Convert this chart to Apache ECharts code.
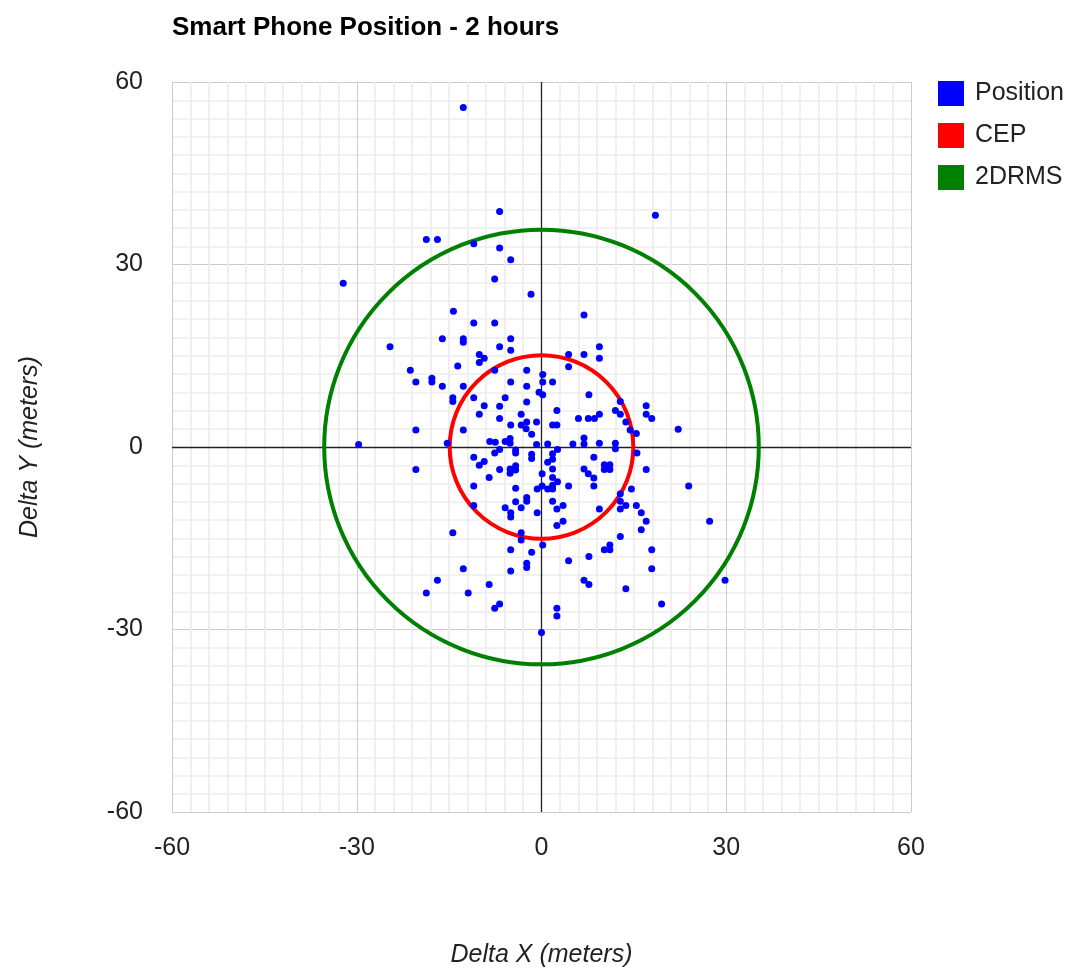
<!DOCTYPE html>
<html>
<head>
<meta charset="utf-8">
<script src="https://cdn.jsdelivr.net/npm/echarts@6/dist/echarts.min.js"></script>
<style>
html,body{margin:0;padding:0;background:#fff;overflow:hidden;}
#chart{width:1072px;height:973px;}
</style>
</head>
<body>
<div id="chart"></div>
<script>
var titleText = 'Smart Phone Position - 2 hours';
var xAxisName = 'Delta X (meters)';
var yAxisName = 'Delta Y (meters)';
var axisMin = -60, axisMax = 60, axisInterval = 30;

// Position fixes [deltaX, deltaY] in meters
var positionPoints = [
  [-12.7,55.8],[18.5,38.1],[-6.8,38.7],[-18.7,34.1],[-16.9,34.1],[-11.0,33.4],[-6.8,32.7],[-5.0,30.8],
  [-7.6,27.6],[-32.2,26.9],[-1.7,25.1],[-14.3,22.3],[6.9,21.7],[-11.0,20.4],[-7.6,20.4],[-16.1,17.8],
  [-12.7,17.8],[-12.7,17.2],[-5.0,17.8],[-24.6,16.5],[-6.8,16.5],[9.4,16.5],[-5.0,15.9],[-10.1,15.2],
  [4.4,15.2],[6.9,15.2],[-9.3,14.6],[9.4,14.6],[-10.1,13.9],[-13.6,13.3],[4.4,13.2],[-21.3,12.6],
  [-7.6,12.6],[-2.4,12.6],[0.2,11.9],[-17.8,11.3],[-20.4,10.7],[-17.8,10.7],[-5.0,10.7],[0.2,10.7],
  [1.8,10.7],[-16.1,10.0],[-12.7,10.0],[-2.4,10.0],
  [-0.4,9.0],[0.2,8.6],[7.7,8.6],[-14.4,8.1],[-11.0,8.1],[-5.9,8.1],[-14.4,7.5],[-2.4,7.4],
  [12.8,7.5],[-9.3,6.8],[-6.8,6.7],[17.0,6.8],[2.5,6.0],[12.0,6.0],[-10.1,5.4],[-3.3,5.4],
  [9.4,5.4],[12.8,5.4],[17.0,5.4],[-6.8,4.7],[6.0,4.7],[7.6,4.7],[8.6,4.7],[17.9,4.7],
  [-2.4,4.1],[-0.8,4.1],[13.7,4.1],[-5.0,3.6],[-3.3,3.6],[1.8,3.6],[2.5,3.6],[-2.5,3.0],
  [-1.6,2.1],[14.4,2.8],[-20.4,2.8],[-12.7,2.8],[22.2,2.9],[15.4,2.2],[-5.1,1.4],[6.9,1.5],
  [-29.7,0.4],[-15.3,0.6],[1.0,0.5],[-0.8,0.4],[5.1,0.5],[6.9,0.5],[9.4,0.6],[12.0,0.6],
  [-8.4,0.9],[-7.5,0.8],[-5.9,0.9],[-5.1,0.6],
  [2.6,-0.4],[12.0,-0.3],[15.5,-1.0],[-6.8,-0.4],[-7.6,-1.0],[-4.2,-0.5],[-4.2,-1.0],[-1.6,-1.2],
  [-1.6,-1.9],[1.0,-2.5],[1.8,-1.1],[1.8,-2.0],[1.8,-3.6],[8.5,-1.7],[10.2,-2.9],[11.1,-2.9],
  [10.2,-3.7],[11.1,-3.7],[6.9,-3.6],[7.6,-4.4],[8.5,-5.1],[17.0,-3.7],[0.1,-4.4],[1.8,-5.0],
  [2.6,-5.7],[-0.7,-6.9],[0.1,-6.4],[1.0,-6.9],[1.8,-6.3],[1.8,-6.9],[4.4,-6.4],[8.5,-6.4],
  [23.9,-6.4],[14.6,-6.9],[12.8,-7.7],[1.8,-8.9],[3.5,-9.6],[2.5,-10.2],[12.8,-8.9],[13.7,-9.6],
  [12.8,-10.2],[15.4,-9.6],[9.4,-10.2],[16.2,-10.8],[17.0,-12.2],[27.3,-12.2],[3.5,-12.2],[2.5,-12.9],
  [16.2,-13.6],[0.2,-16.1],[12.8,-14.7],[10.2,-16.9],[11.1,-16.1],[11.1,-16.9],[17.9,-16.9],[7.7,-18.0],
  [4.4,-18.7],[17.9,-20.0],
  [-20.4,-3.7],[-11.0,-1.7],[-10.1,-3.0],[-9.3,-2.4],[-6.8,-3.7],[-5.1,-3.6],[-5.1,-4.3],[-4.2,-3.1],
  [-4.2,-3.8],[-8.5,-5.0],[-11.0,-6.4],[-4.2,-6.8],[-2.4,-8.3],[-2.4,-8.9],[-4.2,-9.0],[-11.0,-9.6],
  [-5.9,-10.0],[-3.3,-10.0],[-5.0,-10.8],[-5.0,-11.5],[-0.7,-10.8],[-14.4,-14.1],[-3.3,-14.1],[-3.3,-15.3],
  [-5.0,-16.9],[-1.6,-17.3],[-2.4,-19.1],[-2.4,-19.8],[-12.7,-20.0],[-5.0,-20.4],[-16.9,-21.9],[-18.7,-24.0],
  [-11.9,-24.0],[-8.5,-22.6],[-6.8,-25.8],[-7.6,-26.5],[0.0,-30.5],[2.5,-26.5],[2.5,-27.8],[6.9,-21.9],
  [7.7,-22.6],[13.7,-23.3],[19.5,-25.8],[29.8,-21.9]
];

// Circles: [centerX, centerY, radius] in meters
var cepCircle = [[0, 0, 15]];
var drmsCircle = [[0, 0, 35.5]];

var FONT = "'Liberation Sans', Arial, sans-serif";

function circleRenderer(color) {
  return function (params, api) {
    var c = api.coord([api.value(0), api.value(1)]);
    var s = api.size([api.value(2), api.value(2)]);
    return {
      type: 'circle',
      shape: { cx: c[0], cy: c[1], r: (s[0] + s[1]) / 2 },
      style: { fill: null, stroke: color, lineWidth: 4 }
    };
  };
}

var chart = echarts.init(document.getElementById('chart'), null, { renderer: 'canvas' });
chart.setOption({
  animation: false,
  backgroundColor: '#fff',
  title: {
    text: titleText,
    left: 172, top: 15, padding: 0,
    textStyle: { fontFamily: FONT, fontSize: 26, fontWeight: 'bold', color: '#000' }
  },
  legend: {
    orient: 'vertical',
    left: 938, top: 81, padding: 0,
    itemWidth: 26, itemHeight: 25, itemGap: 17,
    icon: 'rect',
    itemStyle: { opacity: 1 },
    textStyle: { fontFamily: FONT, fontSize: 25, lineHeight: 25, color: '#222', padding: [0, 0, 0, 6] },
    data: ['Position', 'CEP', '2DRMS']
  },
  grid: { left: 172, right: 161, top: 82, bottom: 151, containLabel: false },
  xAxis: {
    type: 'value', min: axisMin, max: axisMax, interval: axisInterval,
    name: xAxisName, nameLocation: 'middle', nameGap: 131,
    nameTextStyle: { fontFamily: FONT, fontSize: 25, fontStyle: 'italic', color: '#222' },
    axisLine: { show: false, onZero: false },
    axisTick: { show: false },
    axisLabel: { fontFamily: FONT, fontSize: 25, color: '#222', margin: 24 },
    splitLine: { show: true, lineStyle: { color: '#cccccc', width: 1 } },
    minorTick: { show: false, splitNumber: 10 },
    minorSplitLine: { show: true, lineStyle: { color: '#ececec', width: 1.6 } }
  },
  yAxis: {
    type: 'value', min: axisMin, max: axisMax, interval: axisInterval,
    name: yAxisName, nameLocation: 'middle', nameGap: 129, nameRotate: 90,
    nameTextStyle: { fontFamily: FONT, fontSize: 25, fontStyle: 'italic', color: '#222' },
    axisLine: { show: false, onZero: false },
    axisTick: { show: false },
    axisLabel: { fontFamily: FONT, fontSize: 25, color: '#222', margin: 29 },
    splitLine: { show: true, lineStyle: { color: '#cccccc', width: 1 } },
    minorTick: { show: false, splitNumber: 10 },
    minorSplitLine: { show: true, lineStyle: { color: '#ececec', width: 1.6 } }
  },
  series: [
    {
      name: 'Position', type: 'scatter', data: positionPoints,
      symbol: 'circle', symbolSize: 7,
      itemStyle: { color: '#0000ff', opacity: 1 }, z: 5,
      markLine: {
        silent: true, symbol: ['none', 'none'], label: { show: false },
        lineStyle: { color: '#222222', width: 1.3, type: 'solid', opacity: 1 },
        data: [{ xAxis: 0 }, { yAxis: 0 }],
        z: 1
      }
    },
    {
      name: 'CEP', type: 'custom', data: cepCircle,
      itemStyle: { color: '#ff0000' },
      renderItem: circleRenderer('#ff0000'), z: 4
    },
    {
      name: '2DRMS', type: 'custom', data: drmsCircle,
      itemStyle: { color: '#008000' },
      renderItem: circleRenderer('#008000'), z: 4
    }
  ]
});
</script>
</body>
</html>
